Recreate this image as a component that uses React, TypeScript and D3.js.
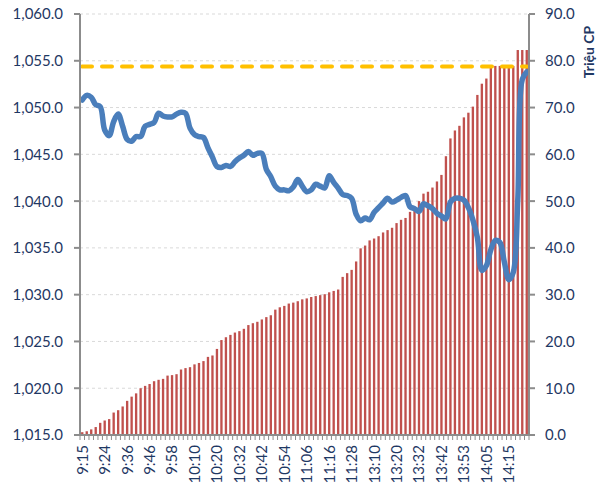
import React from 'react';
import * as d3 from 'd3';

// matched volume (million shares), cumulative
const volume = [
  0.6, 0.8, 1.2, 1.7, 2.6, 3.1, 3.4, 4.8, 5.3, 6.1,
  7.3, 8.2, 8.9, 10.0, 10.5, 10.9, 11.5, 11.8, 12.0, 12.7,
  12.8, 13.0, 14.0, 14.3, 14.5, 15.1, 15.4, 15.8, 16.7, 17.0,
  18.4, 20.3, 20.9, 21.4, 21.9, 22.2, 22.7, 23.5, 23.9, 24.2,
  24.7, 25.2, 25.6, 26.8, 27.3, 27.6, 28.1, 28.3, 28.6, 29.0,
  29.2, 29.5, 29.7, 29.9, 30.1, 30.5, 30.8, 31.1, 33.8, 34.6,
  35.3, 37.1, 39.9, 40.5, 41.6, 42.0, 42.5, 43.3, 43.8, 44.3,
  45.3, 46.0, 46.4, 47.7, 48.2, 50.0, 51.6, 52.0, 52.9, 54.2,
  55.6, 59.6, 63.4, 65.1, 66.1, 67.9, 68.9, 70.2, 72.7, 75.1,
  76.2, 78.9, 78.9, 78.9, 78.9, 78.9, 78.9, 82.3, 82.3, 82.3,
];

// index level
const price = [
  1050.8, 1051.3, 1051.1, 1050.3, 1050.1, 1047.6, 1047.0, 1048.5, 1049.3, 1048.0,
  1046.6, 1046.4, 1046.9, 1046.9, 1048.0, 1048.2, 1048.4, 1049.4, 1049.1, 1049.0,
  1049.0, 1049.3, 1049.5, 1049.4, 1047.8, 1047.1, 1046.9, 1046.8, 1045.7, 1044.7,
  1043.7, 1043.6, 1043.8, 1043.7, 1044.2, 1044.6, 1044.9, 1045.3, 1044.9, 1045.1,
  1045.1, 1043.4, 1042.6, 1041.6, 1041.2, 1041.2, 1041.1, 1041.5, 1042.3, 1041.6,
  1041.0, 1041.2, 1041.8, 1041.6, 1041.4, 1042.7, 1042.0, 1041.4, 1040.7, 1040.6,
  1040.3, 1038.6, 1037.9, 1038.2, 1038.0, 1038.8, 1039.3, 1039.8, 1040.3, 1039.9,
  1040.1, 1040.4, 1040.6, 1039.4, 1039.2, 1038.9, 1039.7, 1039.5, 1039.2, 1038.7,
  1038.4, 1038.1, 1039.9, 1040.3, 1040.3, 1040.1, 1039.3, 1038.0, 1036.1, 1032.6,
  1033.1, 1034.8, 1035.8, 1035.6, 1033.5, 1031.6, 1032.4, 1040.1, 1053.0, 1053.8,
];

const referencePrice = 1054.4;

// every 5th point is labelled
const tickLabels = [
  '9:15', '9:24', '9:36', '9:46', '9:58', '10:10', '10:20', '10:32', '10:42', '10:54',
  '11:06', '11:16', '11:28', '13:10', '13:20', '13:32', '13:42', '13:53', '14:05', '14:15',
];
const labelEvery = 5;

const leftTicks = [1015, 1020, 1025, 1030, 1035, 1040, 1045, 1050, 1055, 1060];
const rightTicks = [0, 10, 20, 30, 40, 50, 60, 70, 80, 90];

const W = 598;
const H = 485;
const left = 80;
const right = 529;
const top = 14;
const bottom = 435;
const textColor = '#1F3864';
const font = 'Lato, "Open Sans", sans-serif';

const App: React.FC = () => {
  const idx = volume.map((_, i) => i);
  const x = d3.scaleBand<number>().domain(idx).range([left, right]).padding(0);
  const cx = (i: number) => (x(i) as number) + x.bandwidth() / 2;
  const yL = d3.scaleLinear().domain([1015, 1060]).range([bottom, top]);
  const yR = d3.scaleLinear().domain([0, 90]).range([bottom, top]);
  const fmtL = d3.format(',.1f');
  const fmtR = d3.format('.1f');
  const barW = x.bandwidth() * 0.52;

  const linePath = d3.line<number>()
    .x((_, i) => cx(i))
    .y(d => yL(d))
    .curve(d3.curveCatmullRom.alpha(0.5))(price) || '';

  return (
    <svg width={W} height={H} style={{ position: 'absolute', left: 0, top: 0, background: '#fff' }}
      fontFamily={font}>
      {/* gridlines */}
      {leftTicks.slice(1).map(t => (
        <line key={'g' + t} x1={left} x2={right} y1={yL(t)} y2={yL(t)}
          stroke="#D9D9D9" strokeWidth={1} strokeDasharray="3 3" />
      ))}

      {/* bars */}
      {volume.map((v, i) => (
        <rect key={'b' + i} x={cx(i) - barW / 2} y={yR(v)} width={barW} height={bottom - yR(v)}
          fill="#C0504D" />
      ))}

      {/* reference price */}
      <line x1={left + 2} x2={right - 2} y1={yL(referencePrice)} y2={yL(referencePrice)}
        stroke="#FFC000" strokeWidth={4} strokeDasharray="10 10" strokeLinecap="round" />

      {/* index line */}
      <path d={linePath} fill="none" stroke="#4A7EBB" strokeWidth={5.5}
        strokeLinejoin="round" strokeLinecap="round" />

      {/* left axis */}
      <line x1={left} x2={left} y1={top} y2={bottom} stroke="#8C8C8C" strokeWidth={2} />
      {leftTicks.map(t => (
        <g key={'l' + t}>
          <line x1={left - 6} x2={left} y1={yL(t)} y2={yL(t)} stroke="#8C8C8C" strokeWidth={2} />
          <text x={63} y={yL(t)} dy="0.36em" textAnchor="end" fontSize={15} fill={textColor}>
            {fmtL(t)}
          </text>
        </g>
      ))}

      {/* right axis */}
      <line x1={right} x2={right} y1={top} y2={bottom} stroke="#8C8C8C" strokeWidth={2} />
      {rightTicks.map(t => (
        <g key={'r' + t}>
          <line x1={right} x2={right + 6} y1={yR(t)} y2={yR(t)} stroke="#8C8C8C" strokeWidth={2} />
          <text x={545} y={yR(t)} dy="0.36em" textAnchor="start" fontSize={15} fill={textColor}>
            {fmtR(t)}
          </text>
        </g>
      ))}
      <text transform={`translate(589,52) rotate(-90)`} textAnchor="middle" dy="0.36em"
        fontSize={14} fontWeight="bold" fill={textColor}>Triệu CP</text>

      {/* bottom axis */}
      <line x1={left} x2={right} y1={bottom} y2={bottom} stroke="#8C8C8C" strokeWidth={2} />
      {idx.map(i => (
        <line key={'t' + i} x1={x(i) as number} x2={x(i) as number} y1={bottom} y2={bottom + 5}
          stroke="#8C8C8C" strokeWidth={1} />
      ))}
      <line x1={right} x2={right} y1={bottom} y2={bottom + 5} stroke="#8C8C8C" strokeWidth={1} />
      {tickLabels.map((lab, k) => (
        <text key={'x' + k} transform={`translate(${cx(k * labelEvery)},445) rotate(-90)`}
          textAnchor="end" dy="0.36em" fontSize={15} fill={textColor}>{lab}</text>
      ))}
    </svg>
  );
};

export default App;
